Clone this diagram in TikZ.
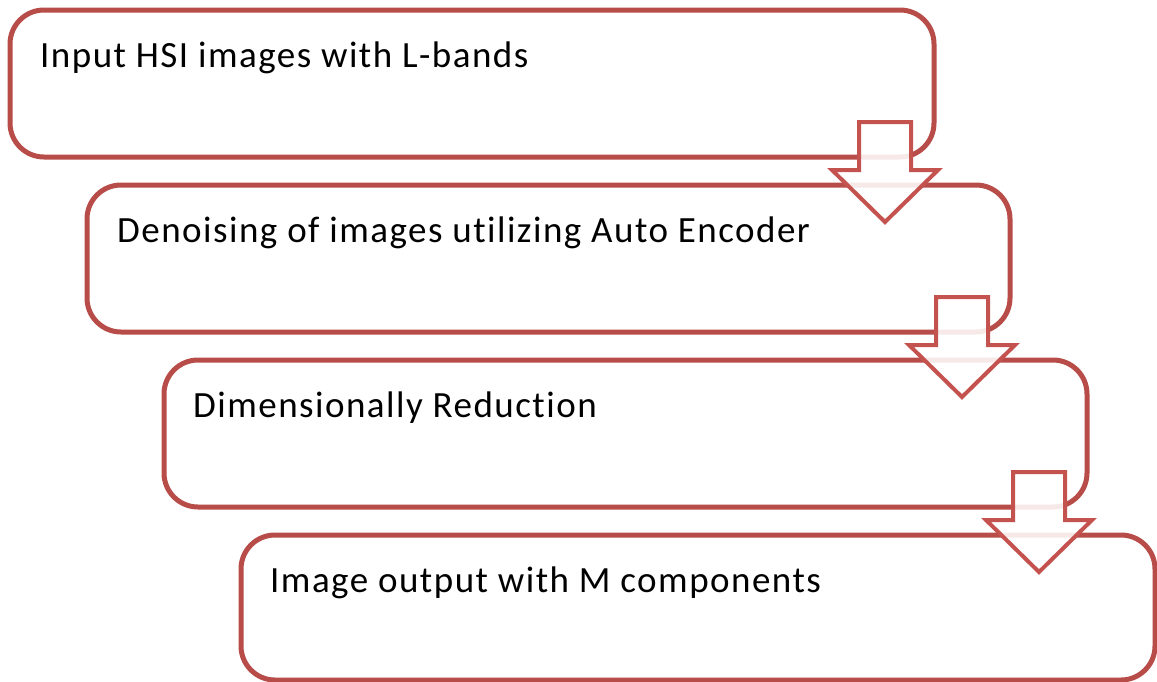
\documentclass[tikz,border=0pt]{standalone}
\usepackage{fontspec}
\setmainfont{Carlito}
\newfontfamily\stagefont[LetterSpace=4.0, Ligatures={NoCommon}]{Carlito}
\definecolor{boxred}{RGB}{183,76,73}
\definecolor{arrowred}{RGB}{196,82,79}
\tikzset{
  stagebox/.style={draw=boxred, line width=5pt, rounded corners=34pt, fill=white,
    anchor=north west, inner sep=0pt, outer sep=0pt},
  stagetext/.style={anchor=base west, inner sep=0pt, font=\stagefont\fontsize{37}{44}\selectfont, text=black},
  blockarrow/.style={draw=arrowred, line width=4pt, fill=white, fill opacity=0.88, line join=miter},
}
\begin{document}
\begin{tikzpicture}[x=1pt,y=-1pt]
\useasboundingbox (0,0) rectangle (1157,681);
\node[stagebox, minimum width=924pt, minimum height=147pt] (b1) at (10,10) {};
\node[stagebox, minimum width=923pt, minimum height=147pt] (b2) at (87,185) {};
\node[stagebox, minimum width=923pt, minimum height=147pt] (b3) at (164,360) {};
\node[stagebox, minimum width=914pt, minimum height=145pt] (b4) at (241,535) {};
\node[stagetext] (t1) at (40,67) {Input HSI images with L-bands};
\node[stagetext] (t2) at (117,242) {Denoising of images utilizing Auto Encoder};
\node[stagetext] (t3) at (193,417) {Dimensionally Reduction};
\node[stagetext] (t4) at (270,592) {Image output with M components};
\foreach \dx/\dy in {0/0,77/175,154/350}{
  \draw[blockarrow, shift={(\dx,\dy)}] (859,122) -- (911,122) -- (911,170) -- (938,170)
    -- (885,222) -- (832,170) -- (859,170) -- cycle;
}
\end{tikzpicture}
\end{document}
